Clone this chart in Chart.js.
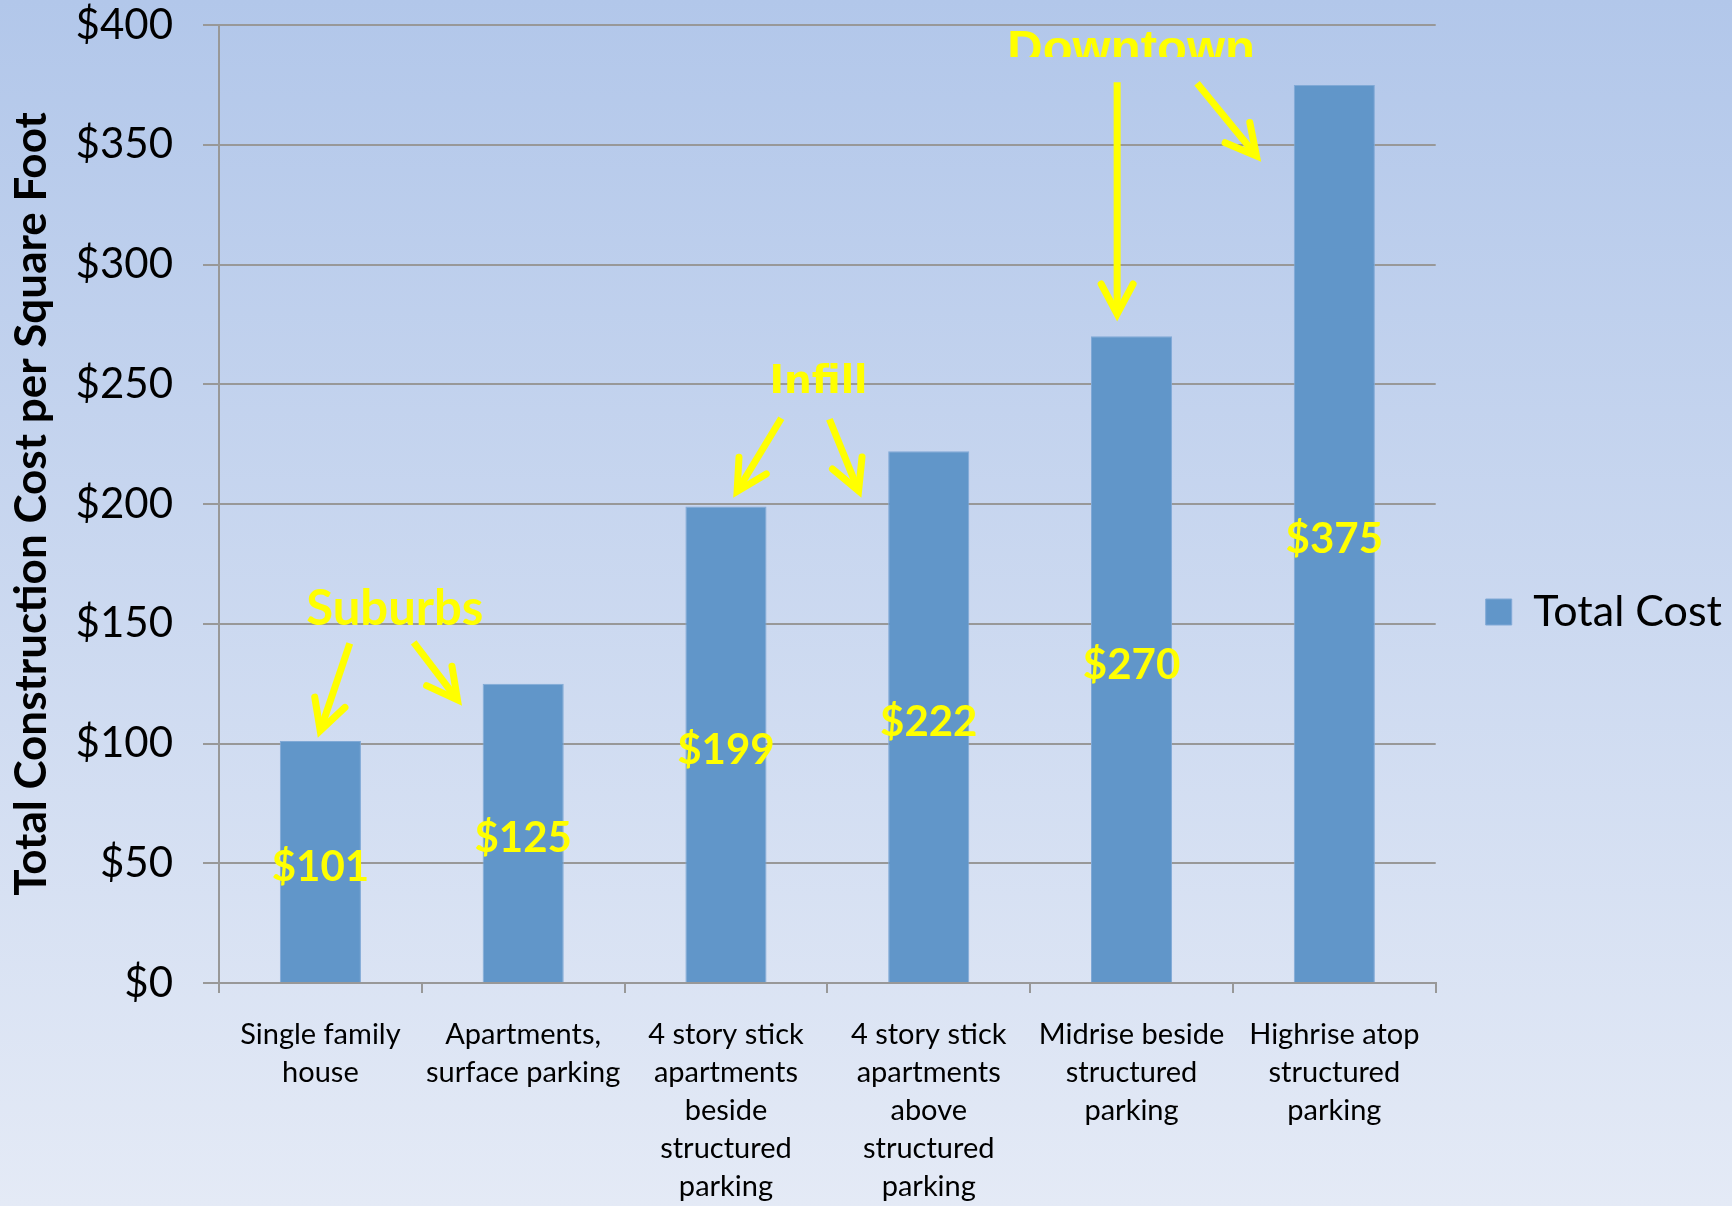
<!DOCTYPE html>
<html>
<head>
<meta charset="utf-8">
<title>Total Construction Cost per Square Foot</title>
<script src="https://cdn.jsdelivr.net/npm/chart.js@4.4.1/dist/chart.umd.min.js"></script>
<style>
  html, body { margin: 0; padding: 0; }
  body {
    width: 1732px;
    height: 1206px;
    overflow: hidden;
    background: linear-gradient(to bottom, #b2c7ea 0%, #e4eaf6 100%);
  }
  #wrap { width: 1732px; height: 1206px; }
</style>
</head>
<body>
<div id="wrap"><canvas id="costChart" width="1732" height="1206"></canvas></div>
<script>
// building types, one multi-line label per bar
const categories = [
  ['Single family', 'house'],
  ['Apartments,', 'surface parking'],
  ['4 story stick', 'apartments', 'beside', 'structured', 'parking'],
  ['4 story stick', 'apartments', 'above', 'structured', 'parking'],
  ['Midrise beside', 'structured', 'parking'],
  ['Highrise atop', 'structured', 'parking']
];
const totalCost = [101, 125, 199, 222, 270, 375];
const yTickValues = [0, 50, 100, 150, 200, 250, 300, 350, 400];
const groupNames = ['Suburbs', 'Infill', 'Downtown'];

// callouts in chart units: x = category index, y = dollars
const callouts = [
  { text: groupNames[0], x: 0.367, y: 149.3, font: 'bold 49px Lato',
    arrows: [[[0.145, 141.8], [-0.012, 102.6]], [[0.46, 142.2], [0.697, 115.9]]] },
  { text: groupNames[1], x: 2.456, y: 246.2, font: 'bold 39px "DejaVu Sans"',
    arrows: [[[2.273, 235.8], [2.037, 202.8]], [[2.51, 235.4], [2.667, 202.8]]] },
  { text: groupNames[2], x: 3.998, y: 383.6, font: 'bold 49px "Liberation Sans"', clipY: 386.6,
    arrows: [[[3.929, 376.1], [3.929, 276.4]], [[4.323, 375.7], [4.638, 343.1]]] }
];

const YELLOW = '#ffff00';

function drawArrow(ctx, x1, y1, x2, y2) {
  const ang = Math.atan2(y2 - y1, x2 - x1);
  const ux = Math.cos(ang), uy = Math.sin(ang);
  // pull the tip back so the mitred point lands on the target
  const tx = x2 - ux * 7, ty = y2 - uy * 7;
  const head = 34, spread = 28 * Math.PI / 180;
  ctx.lineWidth = 7;
  ctx.lineCap = 'butt';
  ctx.beginPath();
  ctx.moveTo(x1, y1);
  ctx.lineTo(tx - ux * 3, ty - uy * 3);
  ctx.stroke();
  ctx.lineCap = 'round';
  ctx.lineJoin = 'miter';
  ctx.miterLimit = 10;
  ctx.beginPath();
  ctx.moveTo(tx - head * Math.cos(ang - spread), ty - head * Math.sin(ang - spread));
  ctx.lineTo(tx, ty);
  ctx.lineTo(tx - head * Math.cos(ang + spread), ty - head * Math.sin(ang + spread));
  ctx.stroke();
}

const valueLabels = {
  id: 'valueLabels',
  afterDatasetsDraw(chart) {
    const ctx = chart.ctx;
    const meta = chart.getDatasetMeta(0);
    ctx.save();
    ctx.font = 'bold 42px Lato';
    ctx.fillStyle = YELLOW;
    ctx.textAlign = 'center';
    ctx.textBaseline = 'middle';
    meta.data.forEach((bar, i) => {
      ctx.fillText('$' + totalCost[i], bar.x, (bar.y + bar.base) / 2 + 6);
    });
    ctx.restore();
  }
};

const calloutPlugin = {
  id: 'callouts',
  afterDraw(chart) {
    const ctx = chart.ctx;
    const xs = chart.scales.x, ys = chart.scales.y;
    ctx.save();
    ctx.fillStyle = YELLOW;
    ctx.strokeStyle = YELLOW;
    callouts.forEach(c => {
      ctx.save();
      if (c.clipY !== undefined) {
        ctx.beginPath();
        ctx.rect(0, 0, chart.width, ys.getPixelForValue(c.clipY));
        ctx.clip();
      }
      ctx.font = c.font;
      ctx.textAlign = 'center';
      ctx.textBaseline = 'alphabetic';
      ctx.fillText(c.text, xs.getPixelForValue(c.x), ys.getPixelForValue(c.y));
      ctx.restore();
      c.arrows.forEach(a => {
        drawArrow(ctx,
          xs.getPixelForValue(a[0][0]), ys.getPixelForValue(a[0][1]),
          xs.getPixelForValue(a[1][0]), ys.getPixelForValue(a[1][1]));
      });
    });
    ctx.restore();
  }
};

Chart.defaults.font.family = 'Lato';
Chart.defaults.color = '#000';

const ctx = document.getElementById('costChart');
if (ctx) {
  new Chart(ctx.getContext('2d'), {
    type: 'bar',
    data: {
      labels: categories,
      datasets: [{
        label: 'Total Cost',
        data: totalCost,
        backgroundColor: '#6196c9',
        borderColor: '#80a9d6',
        borderWidth: 1,
        categoryPercentage: 0.8,
        barPercentage: 0.5
      }]
    },
    options: {
      responsive: false,
      animation: false,
      layout: { padding: { top: 0, left: 0, right: 0, bottom: 0 } },
      plugins: {
        legend: {
          position: 'right',
          // empty title only nudges the entry down a little
          title: { display: true, text: '', font: { size: 10, lineHeight: 1.2 }, padding: 3 },
          labels: {
            font: { size: 43 },
            color: '#000',
            boxWidth: 26,
            boxHeight: 26,
            padding: 50
          }
        },
        tooltip: { enabled: false }
      },
      scales: {
        x: {
          grid: {
            drawOnChartArea: false,
            drawTicks: true,
            tickLength: 10,
            color: '#989898',
            lineWidth: 2,
            offset: true
          },
          border: { color: '#989898', width: 2 },
          ticks: {
            font: { size: 29, lineHeight: 1.31 },
            color: '#000',
            padding: 23,
            maxRotation: 0,
            autoSkip: false
          },
          afterFit: s => { s.height = 223; }
        },
        y: {
          min: yTickValues[0],
          max: yTickValues[yTickValues.length - 1],
          ticks: {
            stepSize: yTickValues[1] - yTickValues[0],
            callback: v => '$' + v,
            font: { size: 42, lineHeight: 1.1 },
            color: '#000',
            padding: 30
          },
          grid: { color: '#989898', lineWidth: 2, tickLength: 16 },
          border: { color: '#989898', width: 2 },
          title: {
            display: true,
            text: 'Total Construction Cost per Square Foot',
            font: { size: 44, weight: 'bold', lineHeight: 1.1 },
            color: '#000',
            padding: { top: 8, bottom: 0 }
          },
          afterFit: s => {
            s.width = 219;
            s.paddingTop = 25;
          }
        }
      }
    },
    plugins: [valueLabels, calloutPlugin]
  });
} else {
  console.error("Canvas element with id 'costChart' not found.");
}
</script>
</body>
</html>
